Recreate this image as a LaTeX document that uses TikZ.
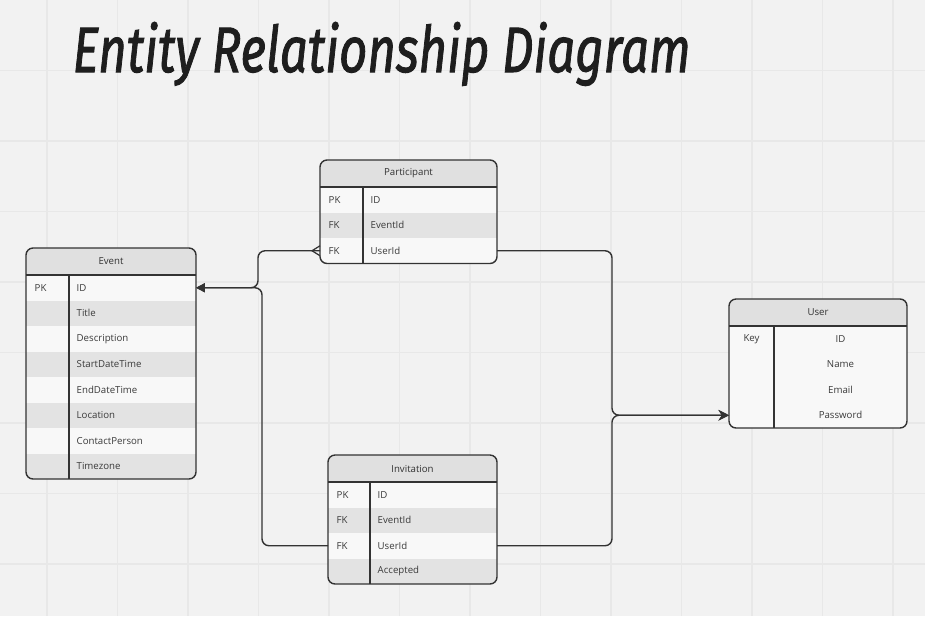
\documentclass[tikz,border=0pt]{standalone}
\usepackage{fontspec}
\usepackage{graphicx}
\newfontfamily\uifont{Open Sans}
\newfontfamily\titlefont[FakeBold=1.6]{Fira Sans}
\usetikzlibrary{arrows.meta}

\definecolor{bgcol}{HTML}{F2F2F2}
\definecolor{gridcol}{HTML}{E8E8E8}
\definecolor{headcol}{HTML}{E0E0E0}
\definecolor{rowlight}{HTML}{F8F8F8}
\definecolor{rowdark}{HTML}{E3E3E3}
\definecolor{linecol}{HTML}{333333}
\definecolor{textcol}{HTML}{3A3A3A}
\definecolor{titlecol}{HTML}{1E1E1E}

\def\px{0.02cm}

\begin{document}
\begin{tikzpicture}[x=0.02cm, y=-0.02cm, line width=0.8pt,
    headcell/.style={fill=headcol, inner sep=0pt, outer sep=0pt, minimum height=27*\px,
                     font=\uifont\fontsize{5.5}{6.6}\selectfont, text=linecol},
    rowcell/.style={inner sep=0pt, outer sep=0pt, minimum height=25.5*\px},
    celltext/.style={inner sep=0pt, font=\uifont\fontsize{5.5}{6.6}\selectfont, text=textcol},
    boxline/.style={draw=linecol, line width=0.8pt},
    link/.style={draw=linecol, line width=0.8pt, rounded corners=4}]

    \useasboundingbox (0,0) rectangle (925,616);
    \fill[bgcol] (0,0) rectangle (925,616);

    % -- griglia di sfondo --
    \foreach \gx in {47,117.5,...,900} \draw[gridcol, line width=0.6pt] (\gx,0) -- (\gx,616);
    \foreach \gy in {70.5,141,...,616} \draw[gridcol, line width=0.6pt] (0,\gy) -- (925,\gy);

    % -- titolo --
    \node[anchor=base west, inner sep=0pt, text=titlecol] (title) at (72,72)
        {\resizebox{12.36cm}{1.0cm}{\titlefont\itshape Entity Relationship Diagram}};

    % tabella con 8 argomenti: nome, x, y, larghezza, colonna chiave, titolo, righe, elenco
    \def\erbox#1#2#3#4#5#6#7#8{%
        \begin{scope}
            \clip[rounded corners=4] (#2,#3) rectangle ++(#4,27+#7*25.5);
            \node[headcell, minimum width=#4*\px, anchor=north west] (#1) at (#2,#3) {#6};
            \foreach \k/\v [count=\i] in {#8} {%
                \ifodd\i \def\rc{rowlight}\else \def\rc{rowdark}\fi
                \node[rowcell, fill=\rc, minimum width=#4*\px, anchor=north west] (#1-\i) at (#2,#3+27+\i*25.5-25.5) {};
                \node[celltext, anchor=west] (#1-k\i) at ([xshift=8*\px]#1-\i.west) {\k};
                \node[celltext, anchor=west] (#1-v\i) at ([xshift=#5*\px+7*\px]#1-\i.west) {\v};
            }
        \end{scope}
        \draw[boxline, rounded corners=4] (#2,#3) rectangle ++(#4,27+#7*25.5);
        \draw[boxline] (#1.south west) -- (#1.south east);
        \draw[boxline] ([xshift=#5*\px]#1.south west) -- ++(0,#7*25.5);
    }

    % -- Event --
    \erbox{ev}{26}{248}{170}{43}{Event}{8}{PK/ID, /Title, /Description, /StartDateTime,
        /EndDateTime, /Location, /ContactPerson, /Timezone}

    % -- Participant --
    \erbox{pa}{320}{160}{177}{43}{Participant}{3}{PK/ID, FK/EventId, FK/UserId}

    % -- Invitation --
    \erbox{inv}{328}{455}{169}{42}{Invitation}{4}{PK/ID, FK/EventId, FK/UserId, /Accepted}

    % -- User (testo centrato, righe tutte chiare) --
    \begin{scope}
        \clip[rounded corners=4] (729,299) rectangle ++(178,129);
        \node[headcell, minimum width=178*\px, anchor=north west] (us) at (729,299) {User};
        \foreach \v [count=\i] in {ID, Name, Email, Password} {
            \node[rowcell, fill=rowlight, minimum width=178*\px, anchor=north west] (us-\i) at (729,299+27+\i*25.5-25.5) {};
            \node[celltext] (us-v\i) at ([xshift=111.5*\px]us-\i.west) {\v};
        }
        \node[celltext] (us-k1) at ([xshift=22.5*\px]us-1.west) {Key};
    \end{scope}
    \draw[boxline, rounded corners=4] (729,299) rectangle ++(178,129);
    \draw[boxline] (us.south west) -- (us.south east);
    \draw[boxline] ([xshift=45*\px]us.south west) -- ++(0,102);

    % -- collegamenti verso Event --
    \draw[link, -{Triangle[length=5pt, width=5pt]}] (pa-3.west) -| ([xshift=62*\px]ev-1.east) -- (ev-1.east);
    \draw[link, -{Triangle[length=5pt, width=5pt]}] (inv-3.west) -| ([xshift=66*\px]ev-1.east) -- (ev-1.east);

    % zampa di gallina su Participant
    \draw[linecol, line width=0.7pt] ([yshift=5*\px]pa-3.west) -- ([xshift=-8*\px]pa-3.west) -- ([yshift=-5*\px]pa-3.west);

    % -- collegamenti verso User --
    \draw[link, -{Stealth[length=6pt, width=6pt]}] (pa-3.east) -| ([xshift=-117*\px]us-4.west) -- (us-4.west);
    \draw[link, -{Stealth[length=6pt, width=6pt]}] (inv-3.east) -| ([xshift=-117*\px]us-4.west) -- (us-4.west);
\end{tikzpicture}
\end{document}
